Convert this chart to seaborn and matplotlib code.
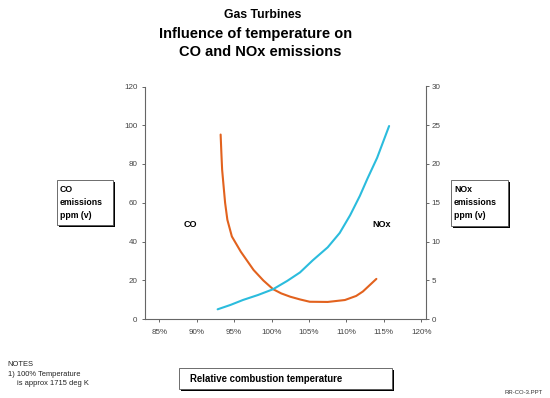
import matplotlib
matplotlib.use("Agg")
import matplotlib.pyplot as plt
import matplotlib.patches as mpatches
import seaborn as sns
import pandas as pd

# ---- data ----
temp_co = [93.2, 93.3, 93.4, 93.6, 93.8, 94.1, 94.7, 95.9, 97.6, 98.9, 100.2,
           101.3, 102.5, 103.8, 105.1, 107.5, 109.8, 111.3, 112.2, 114.0]
co_ppm = [95.2, 85.7, 77.1, 68.4, 59.9, 51.2, 42.6, 34.7, 25.3, 19.9, 15.4,
          13.2, 11.5, 10.1, 8.9, 8.8, 9.8, 11.9, 14.2, 20.7]

temp_nox = [92.8, 94.5, 96.2, 98.2, 100.2, 102.1, 103.8, 105.5, 107.5,
            109.1, 110.5, 111.8, 112.8, 114.1, 115.7]
nox_ppm = [1.25, 1.81, 2.46, 3.10, 3.84, 4.92, 6.01, 7.57, 9.25,
           11.1, 13.4, 15.9, 18.1, 20.8, 24.9]

x_ticks = [85, 90, 95, 100, 105, 110, 115, 120]
x_tick_labels = ["85%", "90%", "95%", "100%", "105%", "110%", "115%", "120%"]
co_ticks = [0, 20, 40, 60, 80, 100, 120]
nox_ticks = [0, 5, 10, 15, 20, 25, 30]

co_df = pd.DataFrame({"temp": temp_co, "co": co_ppm})
nox_df = pd.DataFrame({"temp": temp_nox, "nox": nox_ppm})

sns.set_style("white")
plt.rcParams["font.family"] = ["Liberation Sans", "DejaVu Sans"]
plt.rcParams["text.color"] = "black"
plt.rcParams["lines.solid_joinstyle"] = "round"

W, H = 550, 398
fig = plt.figure(figsize=(W / 100, H / 100), dpi=100)
fig.patch.set_facecolor("white")


def fx(px):
    return px / W


def fy(py):
    return 1 - py / H


ax = fig.add_axes([fx(145), fy(319), fx(425.5) - fx(145), fy(86.5) - fy(319)])
ax2 = ax.twinx()

ORANGE = "#E2621E"
CYAN = "#2BBCDD"

sns.lineplot(data=co_df, x="temp", y="co", ax=ax, color=ORANGE, lw=1.5,
             sort=False, estimator=None)
sns.lineplot(data=nox_df, x="temp", y="nox", ax=ax2, color=CYAN, lw=1.5,
             sort=False, estimator=None)

ax.set_xlim(83.1, 120.56)
ax.set_ylim(0, 120)
ax2.set_ylim(0, 30)
ax.set_xticks(x_ticks)
ax.set_xticklabels(x_tick_labels)
ax.set_yticks(co_ticks)
ax2.set_yticks(nox_ticks)
ax.set_xlabel("")
ax.set_ylabel("")
ax2.set_ylabel("")

spine_col = "#666666"
for a in (ax, ax2):
    for s in a.spines.values():
        s.set_color(spine_col)
        s.set_linewidth(0.8)
    a.spines["top"].set_visible(False)
ax.spines["right"].set_visible(False)
ax2.spines["left"].set_visible(False)
ax2.spines["bottom"].set_visible(False)

tick_col = "#444444"
ax.tick_params(axis="x", direction="out", length=2.5, width=0.7, color=spine_col,
               labelsize=5.8, labelcolor=tick_col, pad=5, bottom=True)
ax.tick_params(axis="y", direction="out", length=2.5, width=0.7, color=spine_col,
               labelsize=5.8, labelcolor=tick_col, pad=3, left=True)
ax2.tick_params(axis="y", direction="out", length=2.5, width=0.7, color=spine_col,
                labelsize=5.8, labelcolor=tick_col, pad=2, right=True)
ax.grid(False)
ax2.grid(False)

# in-plot series labels
fig.text(fx(190.7), fy(225), "CO", fontsize=6.5, fontweight="bold",
         ha="center", va="center")
fig.text(fx(382), fy(225), "NOx", fontsize=6.5, fontweight="bold",
         ha="center", va="center")

# titles
fig.text(fx(263), fy(15.5), "Gas Turbines", fontsize=8.8, fontweight="bold",
         ha="center", va="center")
fig.text(fx(256), fy(34), "Influence of temperature on", fontsize=10.5,
         fontweight="bold", ha="center", va="center")
fig.text(fx(260), fy(52.5), "CO and NOx emissions", fontsize=10.5,
         fontweight="bold", ha="center", va="center")


def shadow_box(x0, y0, x1, y1, sh=2):
    shadow = mpatches.Rectangle((fx(x0 + sh), fy(y1 + sh)), fx(x1) - fx(x0),
                                fy(y0) - fy(y1), transform=fig.transFigure,
                                facecolor="black", edgecolor="none", zorder=5)
    box = mpatches.Rectangle((fx(x0), fy(y1)), fx(x1) - fx(x0),
                             fy(y0) - fy(y1), transform=fig.transFigure,
                             facecolor="white", edgecolor="#555555", lw=0.6,
                             zorder=6)
    fig.patches.extend([shadow, box])


# left axis label box
shadow_box(57, 180, 113, 225)
for txt, yy in zip(["CO", "emissions", "ppm (v)"], [189, 202.7, 216]):
    fig.text(fx(60), fy(yy), txt, fontsize=6.3, fontweight="bold",
             ha="left", va="center", zorder=7)

# right axis label box
shadow_box(451, 180, 508, 226)
for txt, yy in zip(["NOx", "emissions", "ppm (v)"], [190, 202.7, 216]):
    fig.text(fx(454), fy(yy), txt, fontsize=6.3, fontweight="bold",
             ha="left", va="center", zorder=7)

# x label box
shadow_box(179, 368, 392, 389)
fig.text(fx(190), fy(378.5), "Relative combustion temperature", fontsize=6.9,
         fontweight="bold", ha="left", va="center", zorder=7)

# notes
fig.text(fx(7.5), fy(364.5), "NOTES", fontsize=5.4, ha="left", va="center",
         color="#222222")
fig.text(fx(7.5), fy(374.5), "1) 100% Temperature", fontsize=5.4, ha="left",
         va="center", color="#222222")
fig.text(fx(17.5), fy(383.5), "is approx 1715 deg K", fontsize=5.4, ha="left",
         va="center", color="#222222")

fig.text(fx(543), fy(393), "RR-CO-3.PPT", fontsize=4.3, ha="right",
         va="center", color="#333333")

fig.savefig("out.png", dpi=100, facecolor="white")
